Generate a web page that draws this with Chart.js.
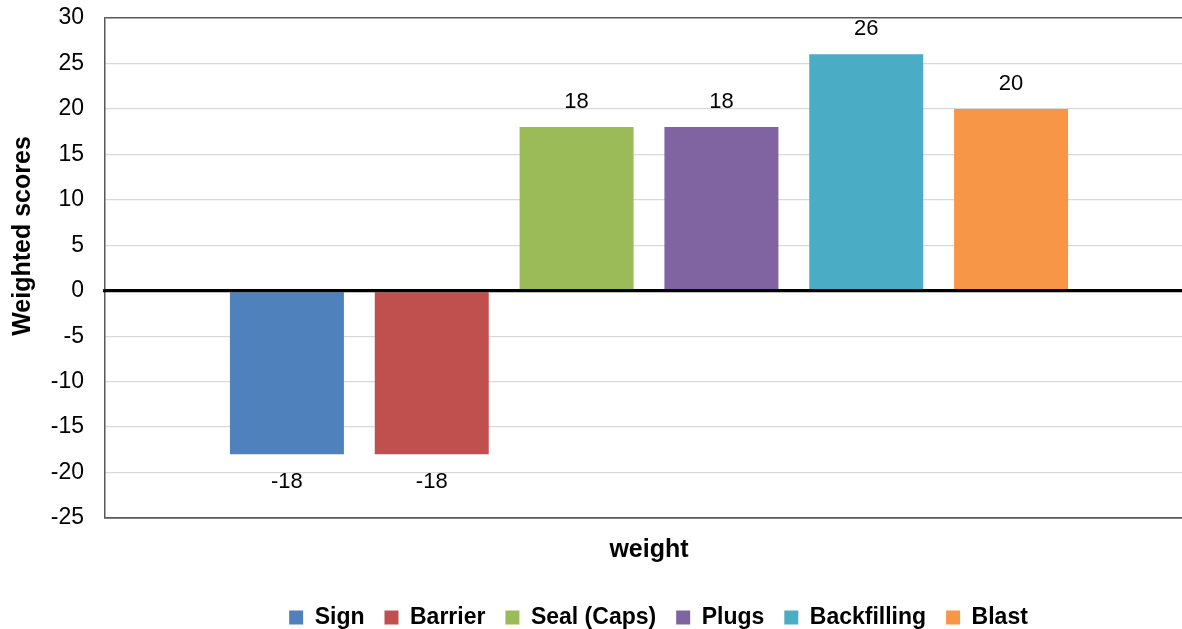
<!DOCTYPE html>
<html>
<head>
<meta charset="utf-8">
<script src="https://cdn.jsdelivr.net/npm/chart.js@4.4.1/dist/chart.umd.min.js"></script>
<style>
html, body { margin: 0; padding: 0; background: #fff; overflow: hidden; }
#wrap { width: 1182px; height: 629px; overflow: hidden; }
</style>
</head>
<body>
<div id="wrap"><canvas id="myChart" width="1193" height="629"></canvas></div>
<script>
const categories = ['weight'];
const series_names = ['Sign', 'Barrier', 'Seal (Caps)', 'Plugs', 'Backfilling', 'Blast'];
const series_values = [-18, -18, 18, 18, 26, 20];
const series_colors = ['#4F81BD', '#C0504D', '#9BBB59', '#8064A2', '#4BACC6', '#F79646'];
const y_min = -25;
const y_max = 30;
const y_step = 5;
const y_title = 'Weighted scores';
const x_title = 'weight';

const FONT = '"Liberation Sans", Arial, sans-serif';
const ctx = document.getElementById('myChart').getContext('2d');

// value labels above / below each bar, zero line on top of the bars
const valueLabels = {
    id: 'valueLabels',
    afterDatasetsDraw(chart) {
        const c = chart.ctx;
        const area = chart.chartArea;
        c.save();
        const y0 = chart.scales.y.getPixelForValue(0);
        c.strokeStyle = '#000';
        c.lineWidth = 3;
        c.beginPath();
        c.moveTo(area.left - 2, y0);
        c.lineTo(area.right, y0);
        c.stroke();

        c.font = '22px ' + FONT;
        c.fillStyle = '#000';
        c.textAlign = 'center';
        c.textBaseline = 'middle';
        chart.data.datasets.forEach((ds, i) => {
            chart.getDatasetMeta(i).data.forEach((bar, j) => {
                const v = ds.data[j];
                const y = v >= 0 ? bar.y - 25 : bar.y + 28;
                c.fillText(String(v), bar.x, y);
            });
        });
        c.restore();
    }
};

// y axis title sits a bit higher than the plot centre, like the original
const yTitle = {
    id: 'yTitle',
    afterDraw(chart) {
        const c = chart.ctx;
        c.save();
        c.translate(23, 236);
        c.rotate(-Math.PI / 2);
        c.font = 'bold 25px ' + FONT;
        c.fillStyle = '#000';
        c.textAlign = 'center';
        c.textBaseline = 'middle';
        c.fillText(y_title, 0, 0);
        c.restore();
    }
};

// nudge the legend box: it sits lower and right of centre in the original
const legendShift = {
    id: 'legendShift',
    afterLayout(chart) {
        const lg = chart.legend;
        lg.left += 62;
        lg.right += 62;
        lg.top += 10;
        lg.bottom += 10;
    }
};

const datasets = series_names.map((name, i) => ({
    label: name,
    data: [series_values[i]],
    backgroundColor: series_colors[i],
    borderWidth: 0,
    categoryPercentage: 0.7987,
    barPercentage: 0.787
}));

const chart = new Chart(ctx, {
    type: 'bar',
    data: {
        labels: categories,
        datasets: datasets
    },
    options: {
        responsive: false,
        animation: false,
        layout: {
            padding: { top: 18, right: 0, left: 0, bottom: 0 }
        },
        plugins: {
            tooltip: { enabled: false },
            legend: {
                position: 'bottom',
                labels: {
                    boxWidth: 14,
                    boxHeight: 14,
                    padding: 20,
                    color: '#000',
                    font: { family: FONT, size: 23, weight: 'bold' }
                }
            }
        },
        scales: {
            x: {
                ticks: { display: false },
                grid: { display: false, drawTicks: false },
                border: { display: true, color: '#595959', width: 1.5 },
                title: {
                    display: true,
                    text: x_title,
                    color: '#000',
                    font: { family: FONT, size: 25, weight: 'bold' },
                    padding: { top: 17, bottom: 11 }
                }
            },
            y: {
                min: y_min,
                max: y_max,
                afterFit(scale) { scale.width = 105; },
                ticks: {
                    stepSize: y_step,
                    padding: 0,
                    color: '#000',
                    font: { family: FONT, size: 23 }
                },
                grid: {
                    drawTicks: true,
                    tickLength: 21,
                    tickColor: 'rgba(0,0,0,0)',
                    color: c => {
                        const v = c.tick.value;
                        if (v === 0) return '#000';
                        if (v === y_max || v === y_min) return '#595959';
                        return '#d9d9d9';
                    },
                    lineWidth: c => {
                        const v = c.tick.value;
                        if (v === 0) return 3;
                        if (v === y_max || v === y_min) return 1.5;
                        return 1.3;
                    }
                },
                border: { display: true, color: '#595959', width: 1.5 }
            }
        }
    },
    plugins: [valueLabels, yTitle, legendShift]
});
</script>
</body>
</html>
